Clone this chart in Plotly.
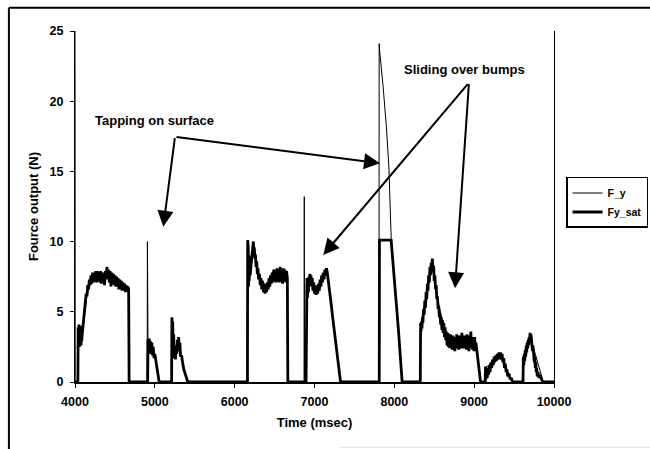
import plotly.graph_objects as go

# ---------------- data ----------------
# Fy_sat (thick line)
sat_t = [
    4000, 4036, 4040, 4045, 4050, 4055, 4060, 4065, 4070, 4075, 4080, 4085, 4090, 4100, 4110, 4120,
    4130, 4140, 4150, 4160, 4170, 4180, 4190, 4200, 4210, 4220, 4230, 4240, 4250, 4260, 4270, 4280,
    4290, 4300, 4310, 4320, 4330, 4340, 4350, 4360, 4370, 4380, 4390, 4400, 4410, 4420, 4430, 4440,
    4450, 4460, 4470, 4480, 4490, 4500, 4510, 4520, 4530, 4540, 4550, 4560, 4570, 4580, 4590, 4600,
    4610, 4620, 4630, 4640, 4650, 4660, 4672, 4678,
    4910, 4914, 4922, 4930, 4938, 4946, 4954, 4962, 4970, 4980, 4990, 5000, 5020, 5040, 5054,
    5210, 5214, 5219, 5224, 5229, 5236, 5242, 5250, 5258, 5266, 5274, 5282, 5290, 5298, 5306, 5314,
    5322, 5334, 5348, 5362, 5380, 5398, 5412,
    6160, 6163, 6166, 6170, 6174, 6178, 6182, 6188, 6194, 6200, 6210, 6218, 6226, 6234, 6240, 6246,
    6252, 6260, 6268, 6276, 6284, 6292, 6300, 6310, 6320, 6330, 6340, 6350, 6360, 6370, 6380, 6390,
    6400, 6410, 6420, 6430, 6440, 6450, 6460, 6470, 6480, 6490, 6500, 6510, 6520, 6530, 6540, 6550,
    6560, 6570, 6580, 6590, 6600, 6610, 6620, 6630, 6640, 6650, 6660, 6666,
    6894, 6898, 6902, 6906, 6912, 6918, 6924, 6930, 6936, 6942, 6948, 6956, 6964, 6972, 6980, 6990,
    7000, 7010, 7020, 7030, 7040, 7050, 7060, 7070, 7080, 7090, 7100, 7110, 7120, 7130, 7140, 7150,
    7160, 7170, 7190, 7210, 7230, 7250, 7270, 7290, 7310, 7326,
    7811, 7814, 7960, 8000, 8050, 8098,
    8325, 8329, 8334, 8340, 8346, 8352, 8358, 8366, 8374, 8382, 8390, 8398, 8406, 8414, 8422, 8430,
    8438, 8446, 8454, 8462, 8470, 8476, 8484, 8492, 8500, 8508, 8516, 8524, 8532, 8540, 8548, 8556,
    8564, 8572, 8580, 8588, 8596, 8604, 8612, 8620, 8628, 8636, 8644, 8652, 8660, 8670, 8678, 8686,
    8694, 8702, 8710, 8718, 8726, 8734, 8742, 8750, 8758, 8766, 8774, 8782, 8790, 8798, 8806, 8814,
    8822, 8830, 8838, 8846, 8854, 8862, 8870, 8878, 8886, 8894, 8902, 8910, 8918, 8926, 8934, 8942,
    8950, 8958, 8966, 8974, 8982, 8990, 8998, 9006, 9014, 9022, 9040, 9060, 9080,
    9138, 9142, 9148, 9156, 9164, 9172, 9180, 9190, 9200, 9210, 9220, 9230, 9240, 9250, 9260, 9270,
    9280, 9290, 9300, 9310, 9320, 9330, 9340, 9350, 9360, 9370, 9380, 9390, 9400, 9410, 9420, 9435,
    9450, 9465, 9478,
    9612, 9616, 9622, 9628, 9634, 9640, 9646, 9652, 9658, 9664, 9670, 9676, 9682, 9688, 9694, 9700,
    9706, 9712, 9718, 9724, 9730, 9736, 9742, 9748, 9754, 9760, 9766, 9772, 9778, 9784, 9790, 9800,
    9812, 9830, 9850, 9866, 10000,
]
sat_v = [
    0, 0, 3.9, 2.6, 4.1, 2.5, 3.8, 2.7, 4.0, 2.6, 3.6, 2.9, 3.4, 3.9, 4.6, 5.3,
    5.7, 6.3, 6.1, 6.9, 6.6, 7.3, 6.9, 7.6, 7.0, 7.8, 7.1, 7.8, 7.2, 7.9, 7.1, 7.9,
    7.2, 7.8, 7.1, 7.9, 7.0, 7.8, 7.2, 7.7, 6.9, 7.9, 7.3, 8.2, 7.4, 8.0, 7.1, 7.9,
    6.8, 7.8, 7.0, 7.7, 6.9, 7.6, 6.8, 7.5, 6.8, 7.4, 6.6, 7.3, 6.6, 7.2, 6.5, 7.1,
    6.5, 7.0, 6.4, 6.9, 6.4, 6.8, 6.6, 0,
    0, 3.0, 2.2, 3.1, 2.0, 2.9, 2.1, 2.8, 1.9, 2.5, 1.7, 2.0, 1.2, 0.5, 0,
    0, 4.6, 3.2, 4.3, 2.4, 3.4, 1.7, 2.6, 1.6, 2.4, 2.0, 3.0, 2.2, 3.2, 2.3, 2.8,
    1.8, 1.9, 1.2, 0.9, 0.6, 0.3, 0,
    0, 10.1, 6.6, 9.6, 6.8, 9.0, 7.2, 8.4, 7.6, 8.0, 8.6, 9.2, 9.8, 10.0, 9.4, 9.6,
    8.8, 9.1, 8.2, 8.6, 7.7, 8.1, 7.3, 7.7, 6.9, 7.4, 6.6, 7.2, 6.4, 7.0, 6.3, 6.9,
    6.4, 7.1, 6.6, 7.4, 6.8, 7.6, 7.0, 7.8, 7.1, 8.0, 7.2, 7.9, 7.1, 8.1, 7.2, 8.0,
    7.1, 8.2, 7.2, 7.9, 7.0, 8.1, 7.2, 8.0, 7.1, 7.9, 7.4, 0,
    0, 7.2, 5.6, 7.4, 6.0, 7.2, 6.4, 7.5, 6.8, 7.7, 7.0, 7.6, 6.8, 7.4, 6.5, 7.1,
    6.3, 6.9, 6.2, 6.8, 6.3, 7.0, 6.5, 7.3, 6.8, 7.6, 7.1, 7.8, 7.3, 8.0, 7.6, 8.1,
    7.8, 7.4, 6.5, 5.5, 4.5, 3.5, 2.5, 1.6, 0.7, 0,
    0, 10.1, 10.1, 7.4, 3.8, 0,
    0, 4.2, 3.6, 4.3, 3.8, 4.6, 4.2, 5.2, 4.8, 5.8, 5.3, 6.4, 5.9, 7.0, 6.5, 7.6,
    7.1, 8.2, 7.6, 8.5, 8.0, 8.8, 7.8, 8.3, 7.2, 7.6, 6.6, 6.9, 5.9, 6.1, 5.2, 5.4,
    4.6, 4.9, 4.1, 4.6, 3.7, 4.4, 3.5, 4.2, 3.2, 3.9, 3.0, 3.6, 2.6, 3.5, 2.5, 3.3,
    2.4, 3.4, 2.5, 3.2, 2.3, 3.3, 2.4, 3.1, 2.2, 3.2, 2.4, 3.4, 2.5, 3.1, 2.3, 3.3,
    2.5, 3.2, 2.4, 3.5, 2.6, 3.2, 2.4, 3.3, 2.5, 3.0, 2.3, 3.4, 2.4, 3.1, 2.2, 3.3,
    2.5, 3.6, 2.4, 3.2, 2.3, 3.0, 2.2, 3.2, 2.4, 2.8, 1.8, 0.9, 0,
    0, 1.1, 0.2, 0.9, 0.3, 1.0, 0.5, 1.2, 0.7, 1.4, 1.0, 1.6, 1.2, 1.8, 1.4, 1.9,
    1.5, 2.0, 1.6, 2.1, 1.7, 2.1, 1.6, 2.0, 1.4, 1.7, 1.0, 1.3, 0.7, 0.9, 0.4, 0.6,
    0.2, 0.3, 0,
    0, 1.8, 1.2, 2.0, 1.5, 2.3, 1.8, 2.6, 2.1, 2.8, 2.4, 3.0, 2.6, 3.2, 2.8, 3.5,
    3.0, 3.4, 2.6, 3.0, 2.2, 2.6, 1.8, 2.2, 1.4, 1.8, 1.0, 1.4, 0.7, 1.0, 0.4, 0.7,
    0.3, 0.4, 0.1, 0, 0,
]

# F_y (thin line)
fy_t = [
    4000, 4001, 4003, 4038, 4040, 4090, 4150, 4200, 4300, 4400, 4500, 4600, 4672, 4678,
    4904, 4907, 4914, 4950, 5000, 5054,
    5210, 5214, 5250, 5300, 5340, 5412,
    6160, 6163, 6168, 6234, 6300, 6400, 6500, 6660, 6666,
    6869, 6872, 6875, 6894, 6898, 6950, 7030, 7157, 7326,
    7808, 7810, 7813, 7816, 7860, 7900, 7932, 7948, 7962, 8000, 8050, 8098,
    8325, 8329, 8476, 8540, 8620, 8700, 9020, 9080,
    9138, 9142, 9330, 9478,
    9612, 9616, 9705, 9866, 10000,
]
fy_v = [
    26, 20.7, 0, 0, 3.3, 3.2, 6.2, 7.2, 7.5, 7.7, 7.2, 6.8, 6.6, 0,
    0, 10.0, 3.0, 2.5, 1.9, 0,
    0, 4.6, 2.2, 2.8, 1.6, 0,
    0, 10.1, 6.6, 10.0, 7.6, 6.7, 7.6, 7.5, 0,
    0, 13.2, 0, 0, 7.0, 7.3, 6.6, 8.0, 0,
    0, 24.1, 15.0, 23.6, 21.0, 18.2, 15.3, 12.8, 10.0, 7.4, 3.8, 0,
    0, 4.0, 8.5, 6.0, 3.8, 2.9, 2.8, 0,
    0, 1.0, 1.9, 0,
    0, 1.5, 3.2, 0, 0,
]

x_ticks = [4000, 5000, 6000, 7000, 8000, 9000, 10000]
y_ticks = [0, 5, 10, 15, 20, 25]

FONT = "Liberation Sans, Arial, sans-serif"

fig = go.Figure()
fig.add_trace(go.Scatter(x=fy_t, y=fy_v, mode="lines", name="F_y",
                         line=dict(color="black", width=1)))
fig.add_trace(go.Scatter(x=sat_t, y=sat_v, mode="lines", name="Fy_sat",
                         line=dict(color="black", width=2.8)))

fig.update_layout(
    width=650, height=449,
    margin=dict(l=75, r=96, t=31, b=67, autoexpand=False),
    paper_bgcolor="white", plot_bgcolor="white",
    font=dict(family=FONT, color="black", size=12),
    showlegend=True,
    legend=dict(xref="container", yref="container",
                x=0.997, xanchor="right", y=0.549, yanchor="middle",
                bgcolor="white", bordercolor="black", borderwidth=1.5,
                font=dict(family=FONT, size=10.5, weight="bold"),
                itemwidth=30, tracegroupgap=0),
)

fig.update_xaxes(
    range=[4000, 10000], tickvals=x_ticks, ticktext=[str(v) for v in x_ticks],
    showgrid=False, zeroline=False, showline=True, linecolor="black", linewidth=1.5,
    ticks="outside", ticklen=4, tickcolor="black", tickwidth=1,
    tickfont=dict(family=FONT, size=12.5, weight="bold"), ticklabelstandoff=3,
    title=dict(text="Time (msec)", font=dict(family=FONT, size=13, weight="bold"), standoff=10),
)
fig.update_yaxes(
    range=[0, 25], tickvals=y_ticks, ticktext=[str(v) for v in y_ticks],
    showgrid=False, zeroline=False, showline=True, linecolor="black", linewidth=1,
    mirror=True,
    ticks="outside", ticklen=4, tickcolor="black", tickwidth=1,
    tickfont=dict(family=FONT, size=12.5, weight="bold"), ticklabelstandoff=4,
    title=dict(text="Fource output (N)", font=dict(family=FONT, size=13, weight="bold"), standoff=8),
)

# annotation texts
fig.add_annotation(x=4990, y=18.66, xref="x", yref="y", text="Tapping on surface",
                   showarrow=False, font=dict(family=FONT, size=13, weight="bold"))
fig.add_annotation(x=8885, y=22.27, xref="x", yref="y", text="Sliding over bumps",
                   showarrow=False, font=dict(family=FONT, size=13, weight="bold"))

arrows = [
    # (tail_x, tail_y, tip_x, tip_y)
    (5253, 17.47, 5106, 11.06),
    (5253, 17.47, 7820, 15.58),
    (8935, 21.32, 7110, 9.05),
    (8935, 21.32, 8760, 6.67),
]
for ax_, ay_, x_, y_ in arrows:
    fig.add_annotation(x=x_, y=y_, ax=ax_, ay=ay_, xref="x", yref="y", axref="x", ayref="y",
                       text="", showarrow=True, arrowhead=2, arrowsize=1.6, arrowwidth=2,
                       arrowcolor="black", standoff=0, startstandoff=0)

# outer chart frame
fig.add_shape(type="line", xref="paper", yref="paper", x0=-0.138, x1=1.21, y0=1.066, y1=1.066,
              line=dict(color="black", width=2))
fig.add_shape(type="line", xref="paper", yref="paper", x0=-0.138, x1=-0.138, y0=1.066, y1=-0.2,
              line=dict(color="black", width=2))
fig.add_shape(type="line", xref="paper", yref="paper", x0=0.553, x1=1.21, y0=-0.186, y1=-0.186,
              line=dict(color="#dddddd", width=1))

fig.write_html("out.html")
